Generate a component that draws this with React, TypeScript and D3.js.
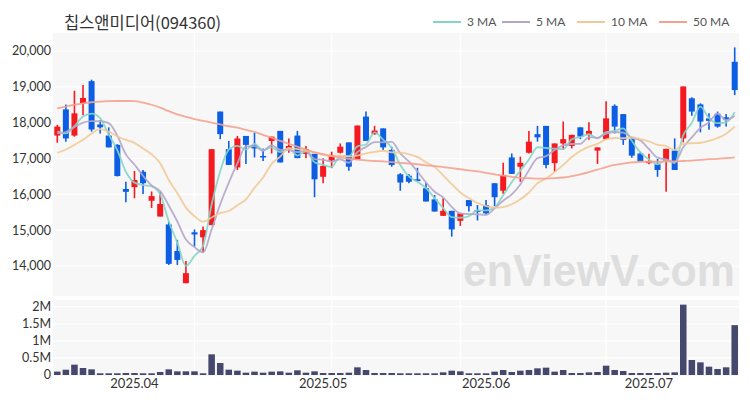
import React from 'react';
import * as d3 from 'd3';

// trading days, 2025.03.19 - 2025.07.15
const dates = [
  '03-19', '03-20', '03-21', '03-24', '03-25', '03-26', '03-27', '03-28', '03-31',
  '04-01', '04-02', '04-03', '04-04', '04-07', '04-08', '04-09', '04-10', '04-11', '04-14', '04-15',
  '04-16', '04-17', '04-18', '04-21', '04-22', '04-23', '04-24', '04-25', '04-28', '04-29', '04-30',
  '05-02', '05-07', '05-08', '05-09', '05-12', '05-13', '05-14', '05-15', '05-16', '05-19',
  '05-20', '05-21', '05-22', '05-23', '05-26', '05-27', '05-28', '05-29', '05-30',
  '06-02', '06-04', '06-05', '06-09', '06-10', '06-11', '06-12', '06-13', '06-16', '06-17',
  '06-18', '06-19', '06-20', '06-23', '06-24', '06-25', '06-26', '06-27', '06-30',
  '07-01', '07-02', '07-03', '07-04', '07-07', '07-08', '07-09', '07-10', '07-11', '07-14', '07-15',
];

const opens = [
  17640, 18370, 17640, 18540, 19160, 17950, 17640, 17380, 16150, 16200,
  16630, 15820, 15380, 15160, 14420, 13520, 14940, 14800, 15140, 18310,
  17260, 16750, 17630, 17370, 17070, 17490, 17770, 17260, 17640, 17130,
  17130, 16490, 16940, 17160, 17450, 16960, 18170, 17680, 17840, 17240,
  16560, 16520, 16420, 16170, 15860, 15400, 15540, 15260, 15840, 15560,
  15700, 16310, 16100, 17030, 16770, 17160, 17680, 17910, 16870, 17420,
  17350, 17870, 17660, 17220, 17540, 18470, 18240, 17540, 17140, 16870,
  16840, 16930, 17220, 17560, 18680, 18510, 18120, 18250, 18150, 19700,
];
const highs = [
  17940, 18510, 18890, 19050, 19200, 18070, 17870, 17400, 16350, 16650,
  16680, 16080, 16060, 15240, 14730, 14140, 15020, 15100, 17260, 18310,
  17490, 17630, 17630, 17720, 17280, 17610, 17770, 17560, 17770, 17350,
  17130, 17010, 17190, 17420, 17450, 17920, 18310, 17910, 17840, 17330,
  16590, 16570, 16740, 16330, 15980, 15890, 15540, 15470, 15840, 15700,
  15840, 16310, 16880, 17140, 17050, 17770, 17910, 17910, 17420, 18030,
  17660, 17870, 18010, 17310, 18600, 18510, 18240, 17610, 17190, 17130,
  16990, 17270, 17560, 19010, 18710, 18540, 18260, 18310, 18240, 20100,
];
const lows = [
  17440, 17470, 17610, 18210, 17750, 17700, 17310, 16500, 15780, 15890,
  16010, 15620, 15380, 14030, 14030, 13520, 14540, 14370, 15140, 17540,
  16820, 16680, 16850, 17030, 16930, 17140, 16890, 17160, 17010, 17010,
  15920, 16310, 16730, 17140, 16660, 16960, 17490, 17660, 17240, 16770,
  16100, 16310, 16370, 15800, 15520, 15400, 14820, 15120, 15520, 15270,
  15450, 15670, 16010, 16570, 16350, 17140, 17470, 16730, 16630, 17240,
  17280, 17540, 17520, 16850, 17540, 17700, 17380, 17020, 16910, 16840,
  16490, 16070, 16680, 17450, 18190, 17730, 17800, 17860, 17890, 18770,
];
const closes = [
  17890, 17560, 18260, 18690, 17810, 17870, 17310, 16510, 16070, 16400,
  16310, 15950, 15730, 14060, 14170, 13800, 14880, 15000, 17260, 17680,
  16820, 17560, 17380, 17280, 17030, 17610, 16890, 17350, 17010, 17260,
  16420, 16790, 17100, 17330, 16770, 17920, 17490, 17780, 17310, 16820,
  16330, 16350, 16370, 15800, 15520, 15540, 15020, 15470, 15670, 15510,
  15470, 15920, 16540, 16570, 16880, 17470, 17590, 16820, 17420, 17540,
  17660, 17610, 17770, 17310, 18120, 17890, 17520, 17080, 16910, 16930,
  16680, 17270, 16680, 19010, 18310, 18030, 18050, 17890, 18080, 18910,
];
const volumes = [
  100000, 155000, 303000, 205000, 166000, 50000, 50000, 50000, 58000, 58000,
  50000, 50000, 88000, 166000, 107000, 107000, 107000, 50000, 605000, 351000,
  156000, 127000, 68000, 98000, 68000, 98000, 107000, 68000, 137000, 68000,
  107000, 58000, 58000, 58000, 68000, 225000, 146000, 58000, 58000, 58000,
  50000, 50000, 50000, 50000, 50000, 78000, 127000, 107000, 50000, 50000,
  50000, 98000, 146000, 88000, 127000, 146000, 195000, 215000, 98000, 146000,
  58000, 58000, 78000, 88000, 273000, 146000, 117000, 58000, 58000, 58000,
  58000, 68000, 78000, 2060000, 439000, 371000, 244000, 176000, 225000, 1460000,
];

const ma3 = [
  17750, 17700, 17904, 18171, 18254, 18124, 17665, 17231, 16630, 16326,
  16257, 16220, 15997, 15246, 14651, 14006, 14282, 14561, 15715, 16645,
  17250, 17352, 17253, 17408, 17231, 17309, 17179, 17284, 17083, 17203,
  16893, 16822, 16769, 17073, 17067, 17339, 17392, 17727, 17526, 17303,
  16819, 16499, 16350, 16173, 15894, 15618, 15361, 15346, 15389, 15550,
  15550, 15631, 15976, 16341, 16663, 16973, 17314, 17293, 17278, 17259,
  17538, 17600, 17677, 17563, 17734, 17774, 17842, 17495, 17168, 16973,
  16840, 16958, 16874, 17650, 17997, 18446, 18126, 17987, 18005, 18294,
];
const ma5 = [
  17700, 17740, 17880, 18000, 18043, 18039, 17989, 17639, 17115, 16832,
  16519, 16247, 16091, 15689, 15242, 14740, 14526, 14381, 15021, 15723,
  16328, 16863, 17338, 17344, 17215, 17373, 17240, 17234, 17178, 17223,
  16985, 16964, 16914, 16979, 16882, 17181, 17321, 17457, 17453, 17462,
  17144, 16917, 16636, 16333, 16072, 15916, 15650, 15470, 15446, 15444,
  15429, 15608, 15822, 16000, 16275, 16675, 17010, 17066, 17237, 17368,
  17405, 17409, 17598, 17576, 17693, 17740, 17721, 17584, 17503, 17265,
  17023, 16973, 16893, 17312, 17587, 17856, 18013, 18254, 18070, 18191,
];
const ma10 = [
  17160, 17250, 17380, 17520, 17700, 17820, 17750, 17620, 17520, 17437,
  17279, 17118, 16865, 16402, 16037, 15630, 15387, 15236, 15355, 15483,
  15534, 15695, 15860, 16183, 16469, 16851, 17052, 17286, 17261, 17219,
  17179, 17102, 17074, 17079, 17053, 17083, 17142, 17185, 17216, 17172,
  17163, 17119, 17046, 16893, 16767, 16530, 16284, 16053, 15889, 15758,
  15673, 15629, 15646, 15723, 15860, 16052, 16309, 16444, 16619, 16822,
  17040, 17209, 17332, 17407, 17531, 17572, 17565, 17591, 17540, 17479,
  17381, 17347, 17238, 17407, 17426, 17440, 17493, 17573, 17691, 17889,
];
const ma50 = [
  18400, 18450, 18500, 18540, 18570, 18590, 18600, 18605, 18605, 18600,
  18560, 18500, 18420, 18320, 18230, 18160, 18100, 18050, 18000, 17950,
  17900, 17860, 17800, 17740, 17660, 17580, 17490, 17410, 17330, 17250,
  17170, 17120, 17070, 17030, 16990, 16970, 16950, 16930, 16920, 16900,
  16880, 16860, 16840, 16810, 16790, 16760, 16730, 16700, 16670, 16640,
  16600, 16560, 16520, 16490, 16460, 16450, 16440, 16440, 16450, 16470,
  16510, 16560, 16620, 16690, 16760, 16820, 16860, 16890, 16910, 16910,
  16910, 16920, 16920, 16930, 16940, 16960, 16980, 16990, 17010, 17030,
];

const priceTicks = [14000, 15000, 16000, 17000, 18000, 19000, 20000];
const volTicks = [0, 500000, 1000000, 1500000, 2000000];
const volTickLabels = ['0', '0.5M', '1M', '1.5M', '2M'];
const monthTicks = ['04-01', '05-02', '06-02', '07-01'];
const monthLabels = ['2025.04', '2025.05', '2025.06', '2025.07'];
const gridDates = ['04-10', '05-07', '05-28', '06-24'];

const maSeries = [
  { name: '3 MA', values: ma3, color: '#84d5c6' },
  { name: '5 MA', values: ma5, color: '#b3a6cb' },
  { name: '10 MA', values: ma10, color: '#f2c995' },
  { name: '50 MA', values: ma50, color: '#f4a28f' },
];

const UP = '#f51a1f';
const DOWN = '#0c5fe4';
const font = 'Lato, "Noto Sans", sans-serif';

export default function App() {
  const left = 53, right = 739;
  const main = { top: 33, bottom: 296 };
  const vol = { top: 300, bottom: 376 };

  const x = d3.scaleBand().domain(dates).range([left, right]).padding(0);
  const cx = (d: string) => (x(d) as number) + x.bandwidth() / 2;
  const y = d3.scaleLinear().domain([14000, 20000]).range([266, 51]);
  const yv = d3.scaleLinear().domain([0, 2000000]).range([375, 306.7]);
  const bodyW = x.bandwidth() * 0.7;
  const volW = x.bandwidth() * 0.76;

  const line = d3
    .line<number>()
    .x((_, i) => cx(dates[i]))
    .y((d) => y(d))
    .curve(d3.curveMonotoneX);

  const legendX = [433, 502, 577, 659];

  return (
    <svg width={750} height={400} style={{ position: 'absolute', left: 0, top: 0, background: '#fff' }}>
      <defs>
        <clipPath id="mainClip">
          <rect x={left} y={main.top} width={right - left} height={main.bottom - main.top} />
        </clipPath>
      </defs>

      <text x={64} y={29} fontSize={16.5} fill="#333" fontFamily='"Noto Sans CJK KR", sans-serif'>
        칩스앤미디어(094360)
      </text>

      {maSeries.map((s, i) => (
        <g key={s.name} transform={`translate(${legendX[i]},22)`}>
          <line x1={0} x2={28} y1={0} y2={0} stroke={s.color} strokeWidth={2} />
          <text x={34} y={0} dy="0.35em" fontSize={12} fill="#555" fontFamily={font}>
            {s.name}
          </text>
        </g>
      ))}

      {/* panels */}
      <rect x={left} y={main.top} width={right - left} height={main.bottom - main.top} fill="#f7f7f7" />
      <rect x={left} y={vol.top} width={right - left} height={vol.bottom - vol.top} fill="#f7f7f7" />

      {priceTicks.map((t) => (
        <g key={t}>
          <line x1={left} x2={right} y1={y(t)} y2={y(t)} stroke="#fff" strokeWidth={1.2} />
          <text x={51} y={y(t)} dy="0.35em" textAnchor="end" fontSize={12.5} fill="#333" fontFamily={font}>
            {d3.format(',')(t)}
          </text>
        </g>
      ))}
      {volTicks.map((t, i) => (
        <g key={t}>
          {i > 0 && <line x1={left} x2={right} y1={yv(t)} y2={yv(t)} stroke="#fff" strokeWidth={1.2} />}
          <text x={51} y={yv(t)} dy="0.35em" textAnchor="end" fontSize={12.5} fill="#333" fontFamily={font}>
            {volTickLabels[i]}
          </text>
        </g>
      ))}
      {gridDates.map((d) => (
        <g key={d}>
          <line x1={cx(d)} x2={cx(d)} y1={main.top} y2={main.bottom} stroke="#fff" strokeWidth={1.2} />
          <line x1={cx(d)} x2={cx(d)} y1={vol.top} y2={vol.bottom} stroke="#fff" strokeWidth={1.2} />
        </g>
      ))}

      <text
        x={735}
        y={286}
        textAnchor="end"
        fontSize={44}
        fontWeight="bold"
        fontFamily='"Liberation Sans", Arial, sans-serif'
        fill="#dedede"
        textLength={272}
        lengthAdjust="spacingAndGlyphs"
      >
        enViewV.com
      </text>

      {/* candles */}
      {dates.map((d, i) => {
        const up = closes[i] >= opens[i];
        const c = up ? UP : DOWN;
        const top = y(Math.max(opens[i], closes[i]));
        const bot = y(Math.min(opens[i], closes[i]));
        return (
          <g key={d}>
            <line x1={cx(d)} x2={cx(d)} y1={y(highs[i])} y2={y(lows[i])} stroke={c} strokeWidth={1.6} />
            <rect x={cx(d) - bodyW / 2} y={top} width={bodyW} height={Math.max(1.5, bot - top)} fill={c} />
          </g>
        );
      })}

      <g clipPath="url(#mainClip)">
        {maSeries.map((s) => (
          <path key={s.name} d={line(s.values) as string} fill="none" stroke={s.color} strokeWidth={1.8} opacity={0.9} />
        ))}
      </g>

      {/* volume */}
      {dates.map((d, i) => (
        <rect
          key={d}
          x={cx(d) - volW / 2}
          y={yv(volumes[i])}
          width={volW}
          height={yv(0) - yv(volumes[i])}
          fill="#45476d"
        />
      ))}

      {monthTicks.map((d, i) => (
        <text key={d} x={cx(d)} y={388} textAnchor="middle" fontSize={13} fill="#333" fontFamily={font}>
          {monthLabels[i]}
        </text>
      ))}
    </svg>
  );
}
